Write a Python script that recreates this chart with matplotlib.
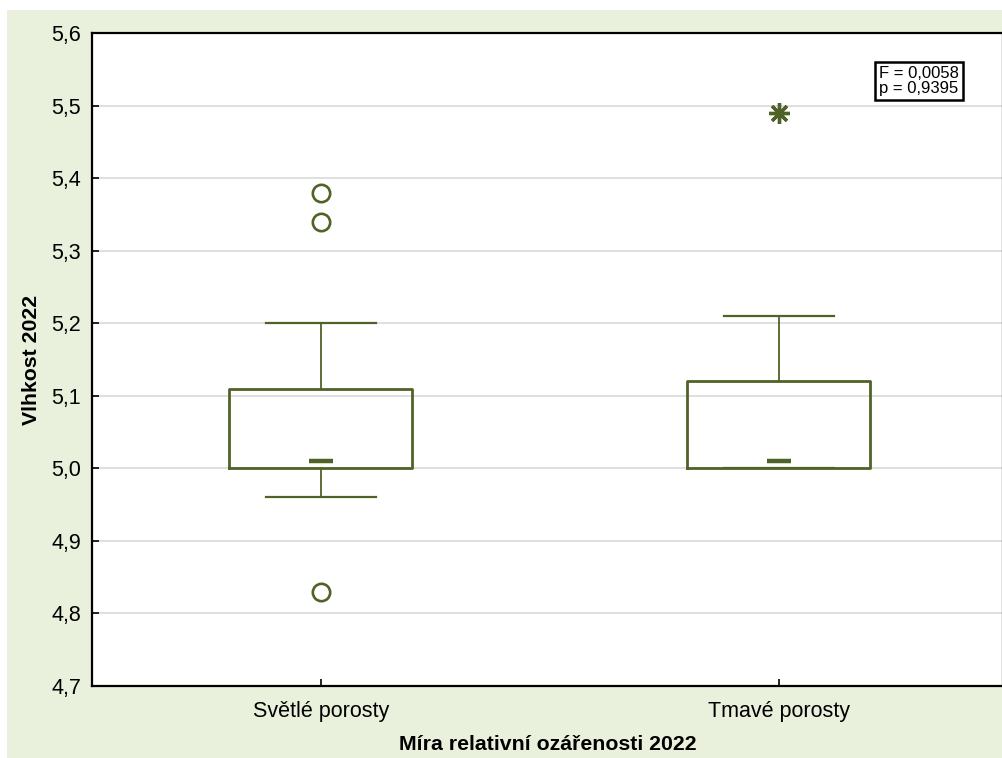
import matplotlib
matplotlib.use("Agg")
import matplotlib.pyplot as plt
from matplotlib.patches import Rectangle
from matplotlib.ticker import FuncFormatter, MultipleLocator

plt.rcParams['font.family'] = ['Liberation Sans', 'DejaVu Sans']

# box summaries per group
groups = ["Světlé porosty", "Tmavé porosty"]
medians = [5.01, 5.01]
q1 = [5.00, 5.00]
q3 = [5.11, 5.12]
whisk_lo = [4.96, 5.00]
whisk_hi = [5.20, 5.21]
outliers = [[5.38, 5.34, 4.83], []]
extremes = [[], [5.49]]

stat_text = "F = 0,0058\np = 0,9395"

green = "#4F6228"
bg = "#E9F0DC"

fig = plt.figure(figsize=(10.03, 7.58), dpi=100, facecolor="white")
fig.patches.append(Rectangle((7 / 1003, 0), 1, 1 - 10 / 758, transform=fig.transFigure,
                             facecolor=bg, edgecolor="none", zorder=-10))
ax = fig.add_axes([92 / 1003, 1 - 686 / 758, 1 - 92 / 1003, (686 - 33) / 758])
ax.set_facecolor("white")

stats = []
for i in range(len(groups)):
    stats.append({"med": medians[i], "q1": q1[i], "q3": q3[i],
                  "whislo": whisk_lo[i], "whishi": whisk_hi[i], "fliers": []})

pos = list(range(len(groups)))
ax.bxp(stats, positions=pos, widths=0.4, capwidths=0.24, showfliers=False,
       boxprops=dict(color=green, linewidth=2.0),
       whiskerprops=dict(color=green, linewidth=1.3),
       capprops=dict(color=green, linewidth=1.6),
       medianprops=dict(linestyle="none"), zorder=3)

# median drawn as short dash
ax.plot(pos, medians, linestyle="none", marker="_", markersize=17,
        markeredgewidth=3.2, color=green, zorder=4)

for i in range(len(groups)):
    if outliers[i]:
        ax.plot([pos[i]] * len(outliers[i]), outliers[i], linestyle="none", marker="o",
                markersize=12.5, markerfacecolor="white", markeredgecolor=green,
                markeredgewidth=1.9, zorder=4)
    if extremes[i]:
        ax.plot([pos[i]] * len(extremes[i]), extremes[i], linestyle="none",
                marker=(8, 2, 0), markersize=15, markeredgecolor=green,
                markeredgewidth=2.4, zorder=4)

ax.set_xlim(-0.5, 1.49)
ax.set_ylim(4.7, 5.6)
ax.yaxis.set_major_locator(MultipleLocator(0.1))
ax.yaxis.set_major_formatter(FuncFormatter(lambda v, p: f"{v:.1f}".replace(".", ",")))
ax.set_xticks(pos)
ax.set_xticklabels(groups)
ax.grid(axis="y", color="#D9D9D9", linewidth=1.2, zorder=0)
ax.set_axisbelow(True)

for s in ax.spines.values():
    s.set_linewidth(1.6)
    s.set_color("black")

ax.tick_params(axis="both", direction="in", length=5, width=1.2, labelsize=15.5)
ax.tick_params(axis="y", pad=8)
ax.tick_params(axis="x", pad=11)

ax.set_xlabel("Míra relativní ozářenosti 2022", fontsize=15.3, fontweight="bold", labelpad=9)
ax.set_ylabel("Vlhkost 2022", fontsize=15.3, fontweight="bold", labelpad=7)

ax.text(0.864, 0.9265, stat_text, transform=ax.transAxes, fontsize=12,
        ha="left", va="center", linespacing=1.0,
        bbox=dict(boxstyle="square,pad=0.22", facecolor="white", edgecolor="black", linewidth=1.8))

fig.savefig("out.png", dpi=100, facecolor=fig.get_facecolor())
